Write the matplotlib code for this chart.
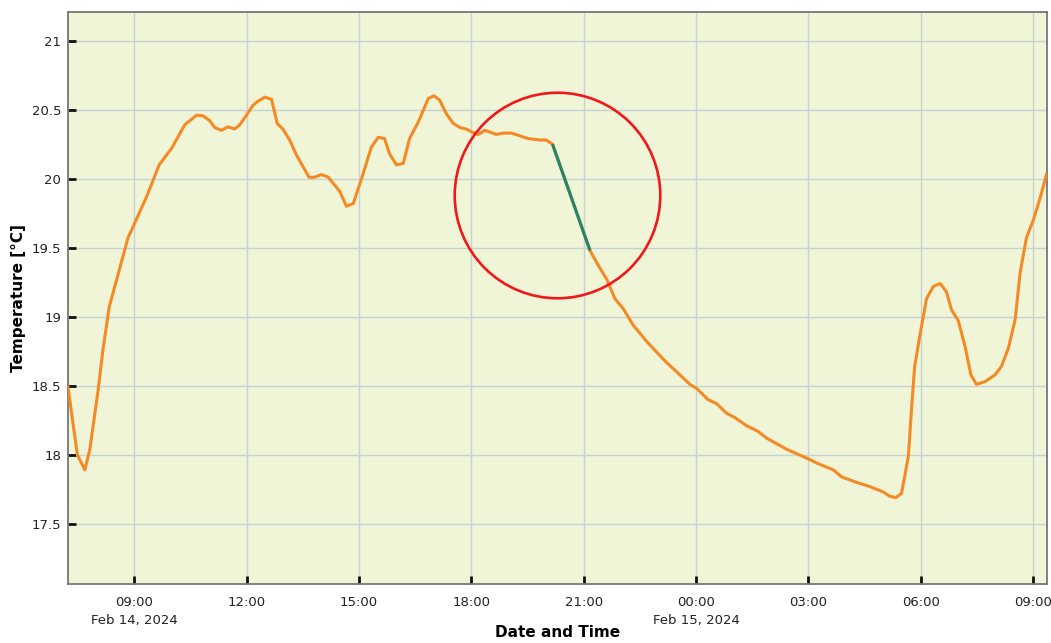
import matplotlib
matplotlib.use("Agg")
import matplotlib.pyplot as plt
import matplotlib.dates as mdates
from matplotlib.ticker import FuncFormatter, FixedLocator
import pandas as pd

# ---- data ----
times = [
    "2024-02-14 07:14", "2024-02-14 07:29", "2024-02-14 07:41", "2024-02-14 07:49",
    "2024-02-14 08:02", "2024-02-14 08:10", "2024-02-14 08:20", "2024-02-14 08:50",
    "2024-02-14 09:01", "2024-02-14 09:20", "2024-02-14 09:40", "2024-02-14 10:00",
    "2024-02-14 10:21", "2024-02-14 10:40", "2024-02-14 10:50", "2024-02-14 11:01",
    "2024-02-14 11:09", "2024-02-14 11:20", "2024-02-14 11:30", "2024-02-14 11:41",
    "2024-02-14 11:49", "2024-02-14 12:00", "2024-02-14 12:10", "2024-02-14 12:18",
    "2024-02-14 12:29", "2024-02-14 12:40", "2024-02-14 12:49", "2024-02-14 12:58",
    "2024-02-14 13:09", "2024-02-14 13:20", "2024-02-14 13:30", "2024-02-14 13:40",
    "2024-02-14 13:49", "2024-02-14 14:00", "2024-02-14 14:11", "2024-02-14 14:18",
    "2024-02-14 14:29", "2024-02-14 14:40", "2024-02-14 14:51", "2024-02-14 15:07",
    "2024-02-14 15:20", "2024-02-14 15:31", "2024-02-14 15:41", "2024-02-14 15:49",
    "2024-02-14 16:00", "2024-02-14 16:11", "2024-02-14 16:21", "2024-02-14 16:35",
    "2024-02-14 16:51", "2024-02-14 17:00", "2024-02-14 17:09", "2024-02-14 17:20",
    "2024-02-14 17:31", "2024-02-14 17:42", "2024-02-14 17:51", "2024-02-14 18:00",
    "2024-02-14 18:11", "2024-02-14 18:22", "2024-02-14 18:40", "2024-02-14 18:51",
    "2024-02-14 19:04", "2024-02-14 19:18", "2024-02-14 19:31", "2024-02-14 19:50",
    "2024-02-14 20:00", "2024-02-14 20:10", "2024-02-14 21:10", "2024-02-14 21:21",
    "2024-02-14 21:37", "2024-02-14 21:50", "2024-02-14 22:03", "2024-02-14 22:19",
    "2024-02-14 22:41", "2024-02-14 23:10", "2024-02-14 23:29", "2024-02-14 23:50",
    "2024-02-15 00:01", "2024-02-15 00:19", "2024-02-15 00:33", "2024-02-15 00:49",
    "2024-02-15 01:02", "2024-02-15 01:21", "2024-02-15 01:39", "2024-02-15 01:53",
    "2024-02-15 02:25", "2024-02-15 03:00", "2024-02-15 03:13", "2024-02-15 03:40",
    "2024-02-15 03:53", "2024-02-15 04:17", "2024-02-15 04:38", "2024-02-15 05:00",
    "2024-02-15 05:10", "2024-02-15 05:20", "2024-02-15 05:29", "2024-02-15 05:40",
    "2024-02-15 05:45", "2024-02-15 05:50", "2024-02-15 05:59", "2024-02-15 06:09",
    "2024-02-15 06:20", "2024-02-15 06:31", "2024-02-15 06:41", "2024-02-15 06:49",
    "2024-02-15 07:00", "2024-02-15 07:11", "2024-02-15 07:20", "2024-02-15 07:29",
    "2024-02-15 07:43", "2024-02-15 07:59", "2024-02-15 08:09", "2024-02-15 08:20",
    "2024-02-15 08:31", "2024-02-15 08:39", "2024-02-15 08:49", "2024-02-15 09:00",
    "2024-02-15 09:11", "2024-02-15 09:21",
]
temperature = [
    18.49, 18.00, 17.89, 18.04, 18.46, 18.76, 19.07, 19.57,
    19.68, 19.87, 20.10, 20.22, 20.39, 20.46, 20.455, 20.42,
    20.37, 20.35, 20.375, 20.36, 20.39, 20.46, 20.53, 20.56,
    20.59, 20.575, 20.40, 20.36, 20.28, 20.17, 20.09, 20.01,
    20.01, 20.03, 20.01, 19.97, 19.91, 19.80, 19.82, 20.04,
    20.23, 20.30, 20.29, 20.18, 20.10, 20.11, 20.29, 20.41,
    20.58, 20.60, 20.57, 20.47, 20.40, 20.37, 20.36, 20.34,
    20.32, 20.35, 20.32, 20.33, 20.33, 20.31, 20.29, 20.28,
    20.28, 20.25, 19.48, 19.39, 19.27, 19.13, 19.06, 18.94,
    18.82, 18.68, 18.60, 18.51, 18.48, 18.40, 18.37, 18.30,
    18.27, 18.21, 18.17, 18.12, 18.04, 17.97, 17.94, 17.89,
    17.84, 17.80, 17.77, 17.73, 17.70, 17.69, 17.72, 17.99,
    18.33, 18.64, 18.88, 19.13, 19.22, 19.24, 19.18, 19.05,
    18.97, 18.78, 18.58, 18.51, 18.53, 18.58, 18.64, 18.77,
    18.98, 19.32, 19.57, 19.70, 19.86, 20.03,
]
# highlighted (anomalous) segment
anomaly_times = ["2024-02-14 20:10", "2024-02-14 21:10"]
anomaly_temps = [20.25, 19.48]

# circle marking the anomaly
circle_center_time = "2024-02-14 20:17"
circle_center_temp = 19.88

tick_times = ["2024-02-14 09:00", "2024-02-14 12:00", "2024-02-14 15:00",
              "2024-02-14 18:00", "2024-02-14 21:00", "2024-02-15 00:00",
              "2024-02-15 03:00", "2024-02-15 06:00", "2024-02-15 09:00"]
y_ticks = [17.5, 18, 18.5, 19, 19.5, 20, 20.5, 21]
x_range = ["2024-02-14 07:14", "2024-02-15 09:22"]
y_range = [17.064, 21.207]

# ---- plotting ----
plt.rcParams['font.family'] = ['DejaVu Sans']
fig = plt.figure(figsize=(10.51, 6.43), dpi=100)
ax = fig.add_axes([68 / 1051, 1 - 584 / 643, 979 / 1051, 572 / 643])
ax.set_facecolor('#f0f5d8')

t = pd.to_datetime(times)
ax.plot(t, temperature, color='#f58a24', lw=2.2, solid_joinstyle='round', zorder=3)
ax.plot(pd.to_datetime(anomaly_times), anomaly_temps, color='#23866a', lw=2.2,
        solid_capstyle='butt', zorder=4)
ax.plot([pd.to_datetime(circle_center_time)], [circle_center_temp], marker='o',
        markersize=148, markerfacecolor='none', markeredgecolor='#f01818',
        markeredgewidth=1.9, zorder=5)

ax.set_xlim(pd.to_datetime(x_range[0]), pd.to_datetime(x_range[1]))
ax.set_ylim(*y_range)

tick_dt = pd.to_datetime(tick_times)
ax.xaxis.set_major_locator(FixedLocator(mdates.date2num(tick_dt)))

def fmt(x, pos):
    d = mdates.num2date(x)
    s = d.strftime('%H:%M')
    if pos == 0 or (d.hour == 0 and d.minute == 0):
        s += '\n' + d.strftime('%b ') + str(d.day) + d.strftime(', %Y')
    return s

ax.xaxis.set_major_formatter(FuncFormatter(fmt))
ax.set_yticks(y_ticks)
ax.set_yticklabels([f"{v:g}" for v in y_ticks])

ax.grid(True, color='#c5d2d3', lw=1.0, zorder=1)
ax.set_axisbelow(True)
ax.tick_params(axis='both', direction='in', length=6, width=2, color='#111111',
               labelsize=9.5, labelcolor='#222222')
ax.tick_params(axis='y', pad=5)
ax.tick_params(axis='x', pad=9)
for lbl in ax.get_xticklabels():
    lbl.set_linespacing(1.45)
for s in ax.spines.values():
    s.set_color('#777777')
    s.set_linewidth(1.3)

ax.set_ylabel('Temperature [°C]', fontsize=11, fontweight='bold')
ax.yaxis.set_label_coords(-0.043, 0.5)
ax.set_xlabel('Date and Time', fontsize=11, fontweight='bold')
ax.xaxis.set_label_coords(0.5, -0.072)

fig.savefig('out.png', dpi=100, facecolor='white')
